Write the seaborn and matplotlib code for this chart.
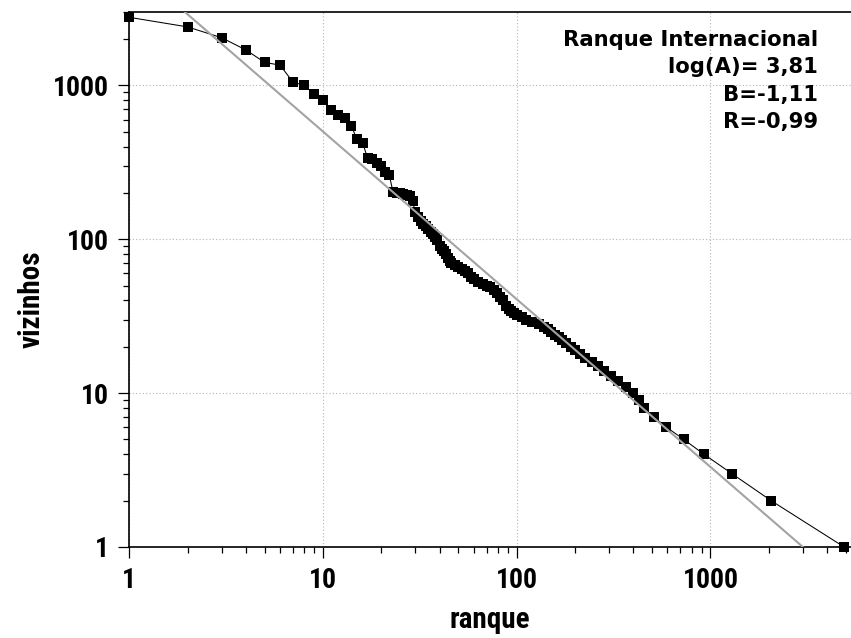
import numpy as np
import pandas as pd
import matplotlib
matplotlib.use("Agg")
import matplotlib.pyplot as plt
import seaborn as sns
from matplotlib import font_manager as fm
from matplotlib.ticker import LogLocator, NullFormatter

# ---------------- data ----------------
ranque = [1, 2, 3, 4, 5, 6, 7, 8, 9, 10, 11, 12, 13, 14, 15, 16, 17, 18, 19, 20,
          21, 22, 23, 24, 25, 26, 27, 28, 29, 30, 31, 32, 33, 34, 35, 36, 37, 38, 39, 40,
          41, 42, 43, 44, 45, 46, 48, 50, 52, 54, 56, 58, 60, 63, 67, 70, 73, 76, 79, 82,
          85, 88, 91, 94, 97, 100, 106, 112, 120, 130, 138, 145, 151, 157, 165, 172, 180, 190, 200, 212,
          225, 245, 262, 282, 305, 335, 365, 400, 430, 455, 510, 593, 728, 927, 1288, 2056, 4895]
vizinhos = [2770, 2400, 2040, 1700, 1410, 1355, 1050, 1000, 880, 800, 690, 640, 610, 545, 445, 425, 336, 330, 312, 298,
            275, 260, 203, 200, 199, 197, 195, 192, 176, 150, 140, 132, 126, 121, 116, 112, 108, 104, 99, 91,
            87, 84, 80, 76, 72, 70, 68, 66, 64, 62, 60, 57, 55, 53, 51, 50, 49, 47, 45, 42,
            40, 37, 35, 34, 33, 32, 31, 30, 29, 28, 27, 26, 25, 24, 23, 22, 21, 20, 19, 18,
            17, 16, 15, 14, 13, 12, 11, 10, 9, 8, 7, 6, 5, 4, 3, 2, 1]

fit_logA = 3.79      # drawn fit line (as it appears in the reference)
fit_B = -1.09
annot_lines = ["Ranque Internacional", "log(A)= 3,81", "B=-1,11", "R=-0,99"]
x_ticks = [1, 10, 100, 1000]
y_ticks = [1, 10, 100, 1000]
x_limits = (1, 5320)
y_limits = (1, 3000)

df = pd.DataFrame({"ranque": ranque, "vizinhos": vizinhos})
fit_x = np.array(x_limits, dtype=float)
fit_df = pd.DataFrame({"x": fit_x, "y": 10 ** (fit_logA + fit_B * np.log10(fit_x))})

# ---------------- fonts ----------------
sns.set_theme(style="white")
plt.rcParams["font.family"] = ["DejaVu Sans"]

narrow_path = None
for f in fm.fontManager.ttflist:
    if f.fname.endswith("RobotoCondensed-Bold.ttf"):
        narrow_path = f.fname
        break
if narrow_path is None:
    for f in fm.fontManager.ttflist:
        if f.fname.endswith("DejaVuSansCondensed-Bold.ttf"):
            narrow_path = f.fname
            break

if narrow_path:
    tick_fp = fm.FontProperties(fname=narrow_path, size=20)
    lab_fp = fm.FontProperties(fname=narrow_path, size=21)
else:
    tick_fp = fm.FontProperties(family="Liberation Sans", weight="bold", size=17)
    lab_fp = fm.FontProperties(family="Liberation Sans", weight="bold", size=17.5)
annot_fp = fm.FontProperties(family="DejaVu Sans", weight="bold", size=15.2)

# ---------------- figure ----------------
W, H = 851, 638
fig = plt.figure(figsize=(W / 100, H / 100), dpi=100)
fig.patch.set_facecolor("white")
left, right, top, bottom = 129.3, 851.0, 12.0, 546.9
ax = fig.add_axes([left / W, 1 - bottom / H, (right - left) / W, (bottom - top) / H])
ax.set_facecolor("white")

sns.lineplot(data=df, x="ranque", y="vizinhos", ax=ax, sort=False, estimator=None,
             color="black", linewidth=0.75, marker="s", markersize=6.8,
             markeredgewidth=0, zorder=3)
for ln in ax.lines:
    ln.set_clip_on(False)
sns.lineplot(data=fit_df, x="x", y="y", ax=ax, sort=False, estimator=None,
             color="#a3a3a3", linewidth=1.5, zorder=4)

ax.set_xscale("log")
ax.set_yscale("log")
ax.set_xlim(*x_limits)
ax.set_ylim(*y_limits)

ax.set_xticks(x_ticks, labels=[str(v) for v in x_ticks])
ax.set_yticks(y_ticks, labels=[str(v) for v in y_ticks])
ax.xaxis.set_minor_locator(LogLocator(base=10, subs=np.arange(2, 10)))
ax.yaxis.set_minor_locator(LogLocator(base=10, subs=np.arange(2, 10)))
ax.xaxis.set_minor_formatter(NullFormatter())
ax.yaxis.set_minor_formatter(NullFormatter())
for lab in ax.get_xticklabels() + ax.get_yticklabels():
    lab.set_fontproperties(tick_fp)
    lab.set_color("black")

ax.tick_params(which="major", direction="out", length=8, width=0.9, color="black",
               bottom=True, left=True, top=False, right=False)
ax.tick_params(axis="x", which="major", pad=6.5)
ax.tick_params(axis="y", which="major", pad=7)
ax.tick_params(which="minor", direction="out", length=4, width=0.9, color="black",
               bottom=True, left=True, top=False, right=False)

ax.grid(which="major", linestyle=(0, (1, 2)), color="#b5b5b5", linewidth=0.8)
ax.grid(which="minor", visible=False)
ax.set_axisbelow(True)

for s in ["left", "bottom", "top"]:
    ax.spines[s].set_visible(True)
    ax.spines[s].set_color("black")
    ax.spines[s].set_linewidth(1.2)
ax.spines["right"].set_visible(False)

ax.set_xlabel("ranque", fontproperties=lab_fp, color="black")
ax.set_ylabel("vizinhos", fontproperties=lab_fp, color="black")
ax.xaxis.label.set_va("center")
ax.yaxis.label.set_va("center")
ax.xaxis.set_label_coords((490 - left) / (right - left), (bottom - 620) / (bottom - top))
ax.yaxis.set_label_coords((32 - left) / (right - left), (bottom - 299) / (bottom - top))

baselines = [46, 73, 100.5, 128]
for txt, yb in zip(annot_lines, baselines):
    fig.text(818 / W, 1 - yb / H, txt, ha="right", va="baseline",
             fontproperties=annot_fp, color="black")

fig.savefig("out.png", dpi=100, facecolor="white")
